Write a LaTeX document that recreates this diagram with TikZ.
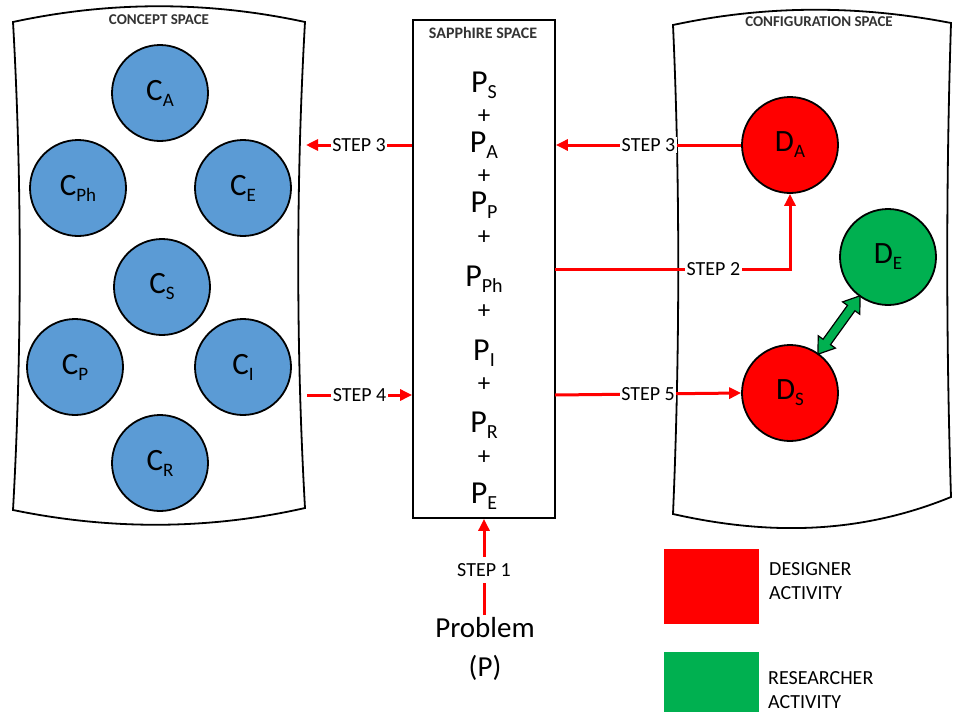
\documentclass[tikz,border=0pt]{standalone}
\usepackage{fontspec}
\setmainfont{Carlito}
\usetikzlibrary{arrows.meta,shapes.arrows}

\definecolor{conceptblue}{HTML}{5B9BD5}
\definecolor{designred}{HTML}{FF0000}
\definecolor{researchgreen}{HTML}{00B050}

% lowered subscript in a smaller size
\newcommand\lowsub[2][19pt]{\raisebox{-6pt}{\fontsize{#1}{#1}\selectfont #2}}

\begin{document}
\begin{tikzpicture}[x=1pt,y=-1pt,
  spaceedge/.style={draw=black, line width=1.8pt, fill=white},
  spacetitle/.style={font=\bfseries\fontsize{15pt}{15pt}\selectfont, text=black!80},
  concept/.style={circle, draw=black, line width=1.8pt, fill=conceptblue,
    minimum size=96pt, inner sep=0pt, font=\fontsize{31pt}{31pt}\selectfont},
  designnode/.style={concept, fill=designred},
  researchnode/.style={concept, fill=researchgreen},
  ptext/.style={font=\fontsize{32pt}{32pt}\selectfont, anchor=base, inner sep=0pt},
  plus/.style={font=\fontsize{25pt}{25pt}\selectfont, inner sep=0pt},
  flow/.style={draw=designred, line width=3pt, -{Triangle[length=12pt,width=11pt]}},
  steplabel/.style={fill=white, inner xsep=1.5pt, inner ysep=1pt,
    font=\fontsize{20pt}{20pt}\selectfont},
  legendtext/.style={anchor=west, align=left, inner sep=0pt,
    font=\fontsize{20pt}{24pt}\selectfont}
]
\useasboundingbox (0,0) rectangle (953,712);

% concept space outline
\path[spaceedge] (13,22) .. controls (110,1) and (208,1) .. (305,22)
  .. controls (296,180) and (296,350) .. (305,508)
  .. controls (208,530) and (110,530) .. (13,510)
  .. controls (22,350) and (22,180) .. cycle;
\node[spacetitle] (cstitle) at (159,20) {CONCEPT SPACE};

% configuration space outline
\path[spaceedge] (673,25) .. controls (766,5) and (858,5) .. (951,23)
  .. controls (946,180) and (946,340) .. (951,497)
  .. controls (858,535) and (766,535) .. (673,514)
  .. controls (680,350) and (680,180) .. cycle;
\node[spacetitle] (cftitle) at (819,22) {CONFIGURATION SPACE};

% SAPPhIRE space box
\node[draw=black, line width=1.8pt, minimum width=142pt, minimum height=498pt,
  inner sep=0pt] (sapphire) at (484,269) {};
\node[spacetitle, font=\bfseries\fontsize{16pt}{16pt}\selectfont]
  (sptitle) at (483,33) {SAPPhIRE SPACE};

\node[ptext] (pS)  at (484,92)  {P\lowsub[20pt]{S}};
\node[plus]  (pl1) at (484,117) {+};
\node[ptext] (pA)  at (484,152) {P\lowsub[20pt]{A}};
\node[plus]  (pl2) at (484,177) {+};
\node[ptext] (pP)  at (484,212) {P\lowsub[20pt]{P}};
\node[plus]  (pl3) at (484,238) {+};
\node[ptext] (pPh) at (484,286) {P\lowsub[20pt]{Ph}};
\node[plus]  (pl4) at (484,312) {+};
\node[ptext] (pI)  at (484,360) {P\lowsub[20pt]{I}};
\node[plus]  (pl5) at (484,385) {+};
\node[ptext] (pR)  at (484,432) {P\lowsub[20pt]{R}};
\node[plus]  (pl6) at (484,458) {+};
\node[ptext] (pE)  at (484,503) {P\lowsub[20pt]{E}};

% concepts
\node[concept] (cA)  at (160,93)  {C\lowsub{A}};
\node[concept] (cPh) at (78,188)  {C\lowsub{Ph}};
\node[concept] (cE)  at (243,188) {C\lowsub{E}};
\node[concept] (cS)  at (162,287) {C\lowsub{S}};
\node[concept] (cP)  at (75,367)  {C\lowsub{P}};
\node[concept] (cI)  at (243,367) {C\lowsub{I}};
\node[concept] (cR)  at (160,463) {C\lowsub{R}};

% designs
\node[designnode]   (dA) at (790,145) {D\lowsub{A}};
\node[researchnode] (dE) at (888,257) {D\lowsub{E}};
\node[designnode]   (dS) at (790,393) {D\lowsub{S}};

% problem
\node[align=center, font=\fontsize{29pt}{39pt}\selectfont, inner sep=2pt]
  (prob) at (485,649) {Problem\\(P)};

% loose ends on the space edges
\coordinate (csStepThree) at (306,145);
\coordinate (csStepFour)  at (307,395);
\coordinate (spStepTwo)   at (555,269);
\coordinate (spStepFive)  at (555,395);

% steps
\draw[flow] (prob.north -| sapphire.south) -- (sapphire.south)
  node[steplabel, inner ysep=6pt, pos=0.47] {STEP 1};
\draw[flow] (spStepTwo) -- (dA.south |- spStepTwo)
  node[steplabel, pos=0.674] {STEP 2} -- (dA.south);
\draw[flow] (sapphire.west |- dA) -- (csStepThree)
  node[steplabel, midway] {STEP 3};
\draw[flow] (dA.west) -- (sapphire.east |- dA)
  node[steplabel, midway] {STEP 3};
\draw[flow] (csStepFour) -- (sapphire.west |- csStepFour)
  node[steplabel, midway] {STEP 4};
\draw[flow] (spStepFive) -- (dS.west)
  node[steplabel, midway] {STEP 5};

% research link
\path (dS) -- (dE) node[midway, sloped, double arrow, draw=black, line width=1.2pt,
  fill=researchgreen, minimum height=72pt, inner sep=4pt,
  double arrow head extend=6pt, double arrow tip angle=70] (link) {};

% legend
\fill[designred] (664,549) rectangle (759,624);
\node[legendtext] (legD) at (769,581) {DESIGNER\\ACTIVITY};
\fill[researchgreen] (664,652) rectangle (759,712);
\node[legendtext] (legR) at (768,690) {RESEARCHER\\ACTIVITY};
\end{tikzpicture}
\end{document}
